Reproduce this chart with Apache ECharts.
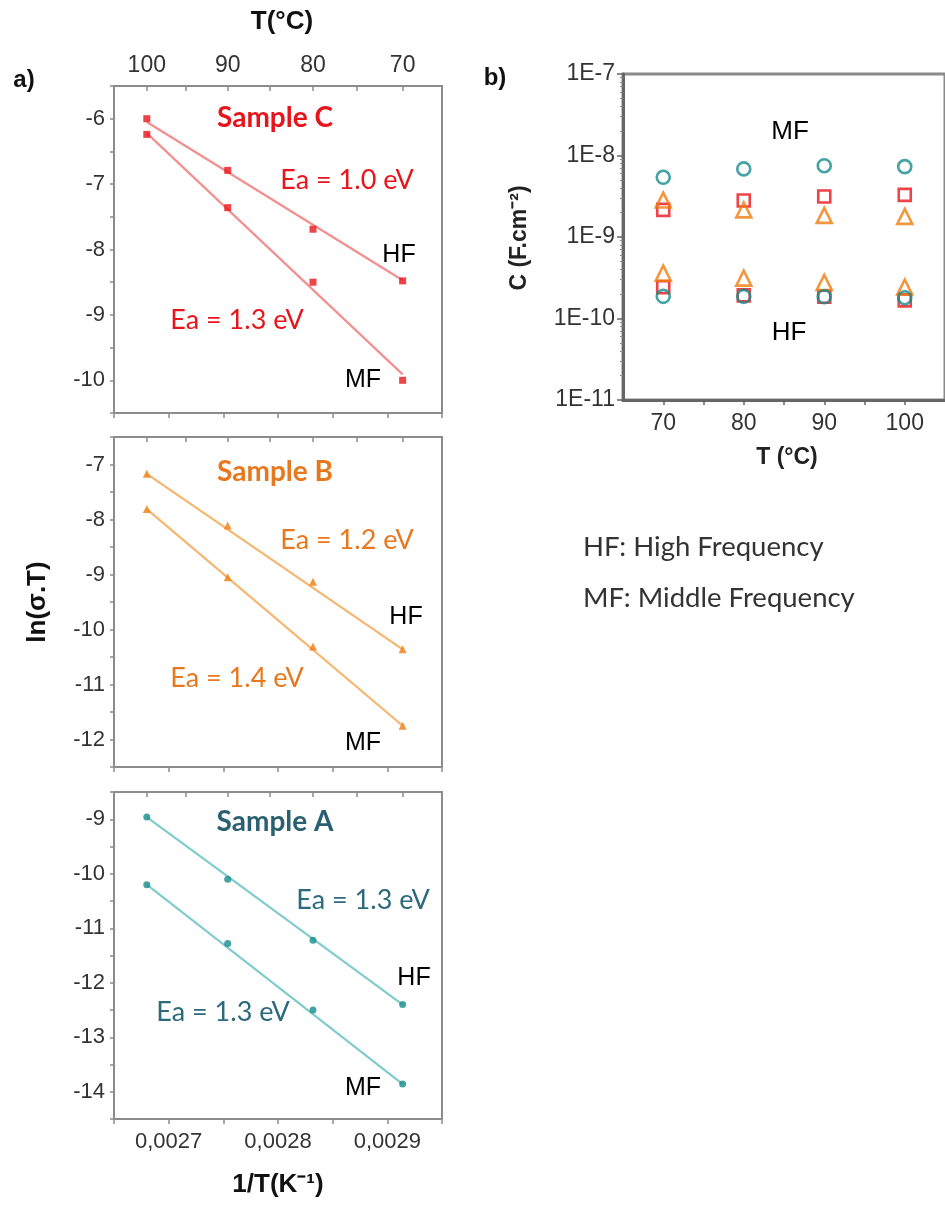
<!DOCTYPE html>
<html><head><meta charset="utf-8">
<script src="https://cdn.jsdelivr.net/npm/echarts@6/dist/echarts.min.js"></script>
<style>html,body{margin:0;padding:0;background:#fff}#c{width:945px;height:1205px}</style>
</head><body><div id="c"></div>
<script>
// ---- Panel a data (x = 1/T in K^-1) ----
const invT = [0.002680, 0.002754, 0.002832, 0.002914];      // 100, 90, 80, 70 °C
const tempLabels = [100, 90, 80, 70];
const topTickInvT = [0.002680, 0.002716, 0.002754, 0.002792, 0.002832, 0.002872, 0.002914];
const fitX = [0.002680, 0.002914];

const sampleC_HF = [-6.0, -6.79, -7.69, -8.48];
const sampleC_MF = [-6.24, -7.36, -8.5, -10.0];
const sampleB_HF = [-7.17, -8.11, -9.13, -10.36];
const sampleB_MF = [-7.81, -9.05, -10.31, -11.75];
const sampleA_HF = [-8.96, -10.1, -11.22, -12.4];
const sampleA_MF = [-10.2, -11.28, -12.5, -13.86];

// fitted lines, end values
const fitC_HF = [-6.05, -8.47];
const fitC_MF = [-6.22, -9.91];
const fitB_HF = [-7.17, -10.36];
const fitB_MF = [-7.81, -11.75];
const fitA_HF = [-8.96, -12.4];
const fitA_MF = [-10.2, -13.86];

// ---- Panel b data ----
const tempC = [70, 80, 90, 100];
const capA_MF = [5.4e-9, 6.85e-9, 7.5e-9, 7.3e-9];
const capA_HF = [1.87e-10, 1.87e-10, 1.85e-10, 1.8e-10];
const capB_MF = [2.84e-9, 2.15e-9, 1.84e-9, 1.79e-9];
const capB_HF = [3.6e-10, 3.13e-10, 2.77e-10, 2.43e-10];
const capC_MF = [2.15e-9, 2.8e-9, 3.14e-9, 3.29e-9];
const capC_HF = [2.42e-10, 1.92e-10, 1.85e-10, 1.67e-10];

const RED = '#e8141b', ORANGE = '#f07d0f', TEAL = '#168c8c';
const RED_L = '#f29090', ORANGE_L = '#f7b56e', TEAL_L = '#80cccc';
const TXT = '#333';

const zip = (xs, ys) => xs.map((x, i) => [x, ys[i]]);

const panels = [
  {top: 86, height: 327, min: -10.5, max: -5.5, hf: sampleC_HF, mf: sampleC_MF, fhf: fitC_HF, fmf: fitC_MF, col: RED, lcol: RED_L, sym: 'rect', size: 7},
  {top: 437, height: 330, min: -12.5, max: -6.5, hf: sampleB_HF, mf: sampleB_MF, fhf: fitB_HF, fmf: fitB_MF, col: ORANGE, lcol: ORANGE_L, sym: 'triangle', size: 8},
  {top: 792, height: 327, min: -14.5, max: -8.5, hf: sampleA_HF, mf: sampleA_MF, fhf: fitA_HF, fmf: fitA_MF, col: TEAL, lcol: TEAL_L, sym: 'circle', size: 7}
];

const grid = [], xAxis = [], yAxis = [], series = [];
const FRAME = '#8c8c8c';
const isInt = v => Math.abs(v - Math.round(v)) < 1e-9;
panels.forEach((p, i) => {
  grid.push({left: 114, top: p.top, width: 328, height: p.height, show: true, borderColor: FRAME, borderWidth: 2, backgroundColor: 'transparent'});
  xAxis.push({
    gridIndex: i, type: 'value', min: 0.00265, max: 0.00295, interval: 0.00005, position: 'bottom',
    axisLine: {lineStyle: {color: FRAME, width: 2}},
    axisTick: {length: 5, lineStyle: {color: FRAME, width: 1.5}},
    splitLine: {show: false},
    axisLabel: {show: i === 2, fontSize: 22, color: TXT, fontFamily: 'Liberation Sans', margin: 12,
      formatter: v => isInt(v * 10000) ? v.toFixed(4).replace('.', ',') : ''}
  });
  xAxis.push({
    gridIndex: i, type: 'value', min: 0.00265, max: 0.00295, position: 'top',
    axisLine: {lineStyle: {color: FRAME, width: 2}},
    axisTick: {inside: true, length: 5, customValues: topTickInvT, lineStyle: {color: FRAME, width: 1.5}},
    splitLine: {show: false},
    axisLabel: {show: i === 0, customValues: invT, fontSize: 23, color: TXT, fontFamily: 'Liberation Sans', margin: 9,
      formatter: v => {
        let best = 0;
        invT.forEach((t, k) => { if (Math.abs(t - v) < Math.abs(invT[best] - v)) best = k; });
        return String(tempLabels[best]);
      }}
  });
  yAxis.push({
    gridIndex: i, type: 'value', min: p.min, max: p.max, interval: 0.5,
    axisLine: {lineStyle: {color: FRAME, width: 2}},
    axisTick: {length: 4, lineStyle: {color: FRAME, width: 1.5}},
    splitLine: {show: false},
    axisLabel: {fontSize: 22, color: TXT, fontFamily: 'Liberation Sans', margin: 9,
      formatter: v => (isInt(v) ? String(Math.round(v)) : '')}
  });
  const xb = i * 2;
  [p.fhf, p.fmf].forEach(f => series.push({
    type: 'line', xAxisIndex: xb, yAxisIndex: i, data: zip(fitX, f), symbol: 'none',
    lineStyle: {color: p.lcol, width: 2.2}, silent: true, z: 2
  }));
  [p.hf, p.mf].forEach(d => series.push({
    type: 'scatter', xAxisIndex: xb, yAxisIndex: i, data: zip(invT, d), symbol: p.sym, symbolSize: p.size,
    itemStyle: {color: p.col}, z: 3
  }));
});

// panel b
grid.push({left: 623, top: 74, width: 327, height: 326, show: true, borderColor: '#8a8a8a', borderWidth: 3, backgroundColor: 'transparent'});
xAxis.push({
  gridIndex: 3, type: 'value', min: 65, max: 105, interval: 5,
  axisLine: {lineStyle: {color: '#666', width: 3}},
  axisTick: {length: 5, lineStyle: {color: '#666', width: 1.5}},
  splitLine: {show: false},
  axisLabel: {fontSize: 23, color: TXT, fontFamily: 'Liberation Sans', margin: 12, showMinLabel: false, showMaxLabel: false,
    formatter: v => (v % 10 === 0 ? String(v) : '')}
});
yAxis.push({
  gridIndex: 3, type: 'log', logBase: 10, min: 1e-11, max: 1e-7,
  axisLine: {lineStyle: {color: '#666', width: 3}},
  axisTick: {length: 6, lineStyle: {color: '#666', width: 1.5}},
  minorTick: {show: true, splitNumber: 9, length: 3, lineStyle: {color: '#888'}},
  splitLine: {show: false},
  axisLabel: {fontSize: 23, color: TXT, fontFamily: 'Liberation Sans', margin: 8,
    formatter: v => '1E' + Math.round(Math.log10(v))}
});
[[capC_MF, 'rect', RED, 12], [capC_HF, 'rect', RED, 12],
 [capB_MF, 'triangle', ORANGE, 15], [capB_HF, 'triangle', ORANGE, 15],
 [capA_MF, 'circle', TEAL, 13], [capA_HF, 'circle', TEAL, 13]].forEach(([d, sym, col, sz], k) => {
  series.push({type: 'scatter', xAxisIndex: 6, yAxisIndex: 3, data: zip(tempC, d), symbol: sym, symbolSize: sz,
    itemStyle: {color: 'rgba(255,255,255,0)', borderColor: col, borderWidth: 2.6}, z: 3 + k});
});

const CAL = 'Lato';
const txt = (text, x, y, font, fill, extra) => Object.assign({type: 'text', x, y, z: 100,
  style: {text, font, fill, align: 'center', verticalAlign: 'middle'}}, extra || {});
const ltxt = (text, x, y, font, fill) => ({type: 'text', x, y, z: 100,
  style: {text, font, fill, align: 'left', verticalAlign: 'middle'}});

const graphic = [
  txt('T(°C)', 282, 22, 'bold 26px "Liberation Sans"', '#111'),
  txt('a)', 24, 80, 'bold 24px "Liberation Sans"', '#111'),
  txt('b)', 495, 78, 'bold 24px "Liberation Sans"', '#111'),
  txt('ln(σ.T)', 38, 602, 'bold 26px "Liberation Sans"', '#111', {rotation: Math.PI / 2}),
  txt('1/T(K⁻¹)', 278, 1185, 'bold 26px "Liberation Sans"', '#111'),
  // Sample C
  txt('Sample C', 275, 118, 'bold 28px ' + CAL, RED),
  txt('Ea = 1.0 eV', 347, 180, '27px ' + CAL, RED),
  txt('HF', 399, 255, '25px "Liberation Sans"', '#000'),
  txt('Ea = 1.3 eV', 237, 320, '27px ' + CAL, RED),
  txt('MF', 363, 380, '25px "Liberation Sans"', '#000'),
  // Sample B
  txt('Sample B', 275, 472, 'bold 28px ' + CAL, '#e8781e'),
  txt('Ea = 1.2 eV', 347, 540, '27px ' + CAL, '#e8781e'),
  txt('HF', 406, 617, '25px "Liberation Sans"', '#000'),
  txt('Ea = 1.4 eV', 237, 678, '27px ' + CAL, '#e8781e'),
  txt('MF', 363, 743, '25px "Liberation Sans"', '#000'),
  // Sample A
  txt('Sample A', 275, 822, 'bold 28px ' + CAL, '#2a6070'),
  txt('Ea = 1.3 eV', 363, 900, '27px ' + CAL, '#2b6a7c'),
  txt('HF', 414, 978, '25px "Liberation Sans"', '#000'),
  txt('Ea = 1.3 eV', 223, 1012, '27px ' + CAL, '#2b6a7c'),
  txt('MF', 363, 1088, '25px "Liberation Sans"', '#000'),
  // panel b
  txt('C (F.cm⁻²)', 520, 238, 'bold 23px "Liberation Sans"', '#222', {rotation: Math.PI / 2}),
  txt('T (°C)', 787, 458, 'bold 23px "Liberation Sans"', '#222'),
  txt('MF', 790, 132, '26px "Liberation Sans"', '#000'),
  txt('HF', 789, 333, '26px "Liberation Sans"', '#000'),
  // legend text
  ltxt('HF: High Frequency', 583, 547, '27.5px ' + CAL, '#333'),
  ltxt('MF: Middle Frequency', 583, 598, '27.5px ' + CAL, '#333')
];

const chart = echarts.init(document.getElementById('c'), null, {renderer: 'canvas'});
chart.setOption({animation: false, backgroundColor: '#fff', grid, xAxis, yAxis, series, graphic});
</script></body></html>
